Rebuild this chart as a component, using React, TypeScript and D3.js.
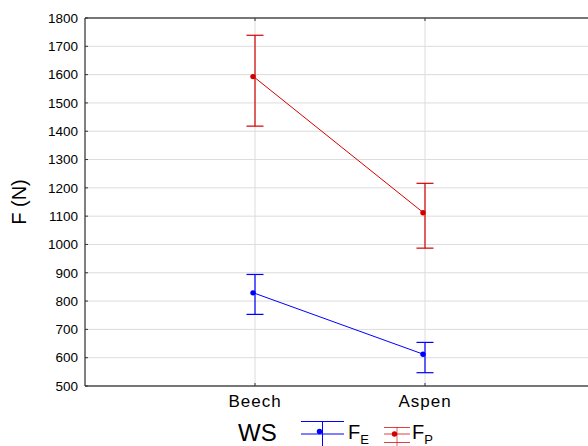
import { useRef, useEffect } from 'react';
import * as d3 from 'd3';

const categories = ['Beech', 'Aspen'];
const yTicks = [500, 600, 700, 800, 900, 1000, 1100, 1200, 1300, 1400, 1500, 1600, 1700, 1800];

// F_E (blue)
const feMean = [829, 612];
const feLow = [753, 547];
const feHigh = [894, 654];
// F_P (red)
const fpMean = [1593, 1112];
const fpLow = [1418, 987];
const fpHigh = [1739, 1216];

const W = 588, H = 446;

export default function App() {
  const svgRef = useRef<SVGSVGElement>(null);

  useEffect(() => {
    const svg = d3.select(svgRef.current);
    svg.selectAll('*').remove();

    const left = 85, right = 595, top = 18, bottom = 386;
    const x = d3.scalePoint<string>().domain(categories).range([left, right]).padding(1);
    const y = d3.scaleLinear().domain([500, 1800]).range([bottom, top]);
    const font = '"Liberation Sans", Arial, sans-serif';

    const g = svg.append('g');

    // grid
    yTicks.forEach(t => {
      g.append('line').attr('x1', left).attr('x2', W).attr('y1', y(t)).attr('y2', y(t))
        .attr('stroke', '#dcdcdc').attr('stroke-width', 1);
    });
    categories.forEach(c => {
      g.append('line').attr('x1', x(c)!).attr('x2', x(c)!).attr('y1', top).attr('y2', bottom)
        .attr('stroke', '#dcdcdc').attr('stroke-width', 1);
    });

    // frame
    g.append('line').attr('x1', left).attr('x2', W).attr('y1', top).attr('y2', top).attr('stroke', '#000');
    g.append('line').attr('x1', left).attr('x2', W).attr('y1', bottom).attr('y2', bottom).attr('stroke', '#000');
    g.append('line').attr('x1', left).attr('x2', left).attr('y1', top).attr('y2', bottom).attr('stroke', '#000');

    // inward ticks
    yTicks.forEach(t => {
      g.append('line').attr('x1', left).attr('x2', left + 3).attr('y1', y(t)).attr('y2', y(t)).attr('stroke', '#333');
      g.append('text').attr('x', left - 7).attr('y', y(t) + 4.8).attr('text-anchor', 'end')
        .attr('font-family', font).attr('font-size', 13.5).attr('fill', '#000').text(t);
    });
    categories.forEach(c => {
      g.append('line').attr('x1', x(c)!).attr('x2', x(c)!).attr('y1', bottom).attr('y2', bottom - 3).attr('stroke', '#333');
      g.append('line').attr('x1', x(c)!).attr('x2', x(c)!).attr('y1', top).attr('y2', top + 3).attr('stroke', '#333');
      g.append('text').attr('x', x(c)!).attr('y', 407).attr('text-anchor', 'middle')
        .attr('font-family', font).attr('font-size', 17).attr('letter-spacing', 1).attr('fill', '#000').text(c);
    });

    // y label
    g.append('text').attr('transform', `translate(26,${(top + bottom) / 2}) rotate(-90)`)
      .attr('text-anchor', 'middle').attr('font-family', font).attr('font-size', 20).text('F (N)');

    const series = [
      { mean: fpMean, low: fpLow, high: fpHigh, color: '#d40000' },
      { mean: feMean, low: feLow, high: feHigh, color: '#0000ff' },
    ];
    const cap = 8.5;
    series.forEach(s => {
      const line = d3.line<number>().x((_, i) => x(categories[i])! - 1.5).y(d => y(d));
      g.append('path').attr('d', line(s.mean)).attr('fill', 'none').attr('stroke', s.color).attr('stroke-width', 1);
      categories.forEach((c, i) => {
        const cx = x(c)!;
        g.append('line').attr('x1', cx).attr('x2', cx).attr('y1', y(s.low[i])).attr('y2', y(s.high[i]))
          .attr('stroke', s.color).attr('stroke-width', 1.2);
        [s.low[i], s.high[i]].forEach(v => {
          g.append('line').attr('x1', cx - cap).attr('x2', cx + cap).attr('y1', y(v)).attr('y2', y(v))
            .attr('stroke', s.color).attr('stroke-width', 1.2);
        });
        g.append('circle').attr('cx', cx - 2).attr('cy', y(s.mean[i])).attr('r', 2.7).attr('fill', s.color);
      });
    });

    // legend
    g.append('text').attr('x', 238).attr('y', 441).attr('font-family', font).attr('font-size', 24).text('WS');
    // F_E symbol
    const blue = '#0000ff';
    g.append('line').attr('x1', 301).attr('x2', 344).attr('y1', 421.5).attr('y2', 421.5).attr('stroke', blue);
    g.append('line').attr('x1', 301).attr('x2', 344).attr('y1', 434).attr('y2', 434).attr('stroke', blue);
    g.append('line').attr('x1', 322.5).attr('x2', 322.5).attr('y1', 421).attr('y2', 446).attr('stroke', blue);
    g.append('circle').attr('cx', 319.5).attr('cy', 431.5).attr('r', 2.7).attr('fill', blue);
    const fe = g.append('text').attr('x', 348).attr('y', 439).attr('font-family', font).attr('font-size', 20);
    fe.append('tspan').text('F');
    fe.append('tspan').attr('font-size', 13).attr('dy', 5).text('E');
    // F_P symbol
    const red = '#d40000';
    [427.5, 434, 442.5].forEach(yy => {
      g.append('line').attr('x1', 384).attr('x2', 410).attr('y1', yy).attr('y2', yy).attr('stroke', red).attr('stroke-opacity', 0.75);
    });
    g.append('line').attr('x1', 397).attr('x2', 397).attr('y1', 427).attr('y2', 446).attr('stroke', red).attr('stroke-opacity', 0.6);
    g.append('circle').attr('cx', 394.5).attr('cy', 434).attr('r', 2.7).attr('fill', red);
    const fp = g.append('text').attr('x', 412).attr('y', 439).attr('font-family', font).attr('font-size', 20);
    fp.append('tspan').text('F');
    fp.append('tspan').attr('font-size', 13).attr('dy', 5).text('P');
  }, []);

  return (
    <div style={{ position: 'absolute', left: 0, top: 0, width: W, height: H, background: '#fff' }}>
      <svg ref={svgRef} width={W} height={H} style={{ display: 'block' }} />
    </div>
  );
}
